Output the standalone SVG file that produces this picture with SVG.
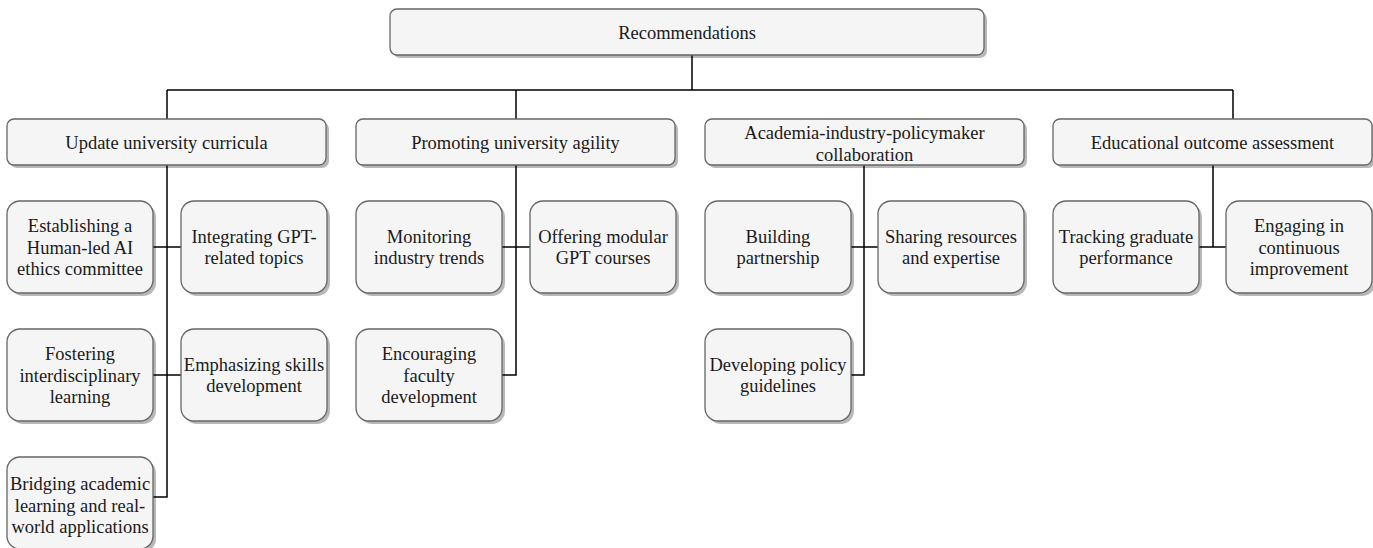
<svg xmlns="http://www.w3.org/2000/svg" width="1373" height="548" viewBox="0 0 1373 548" font-family="'Liberation Serif', Tinos, 'Times New Roman', 'DejaVu Serif', serif">
<style>
.bx{fill:#f5f5f5;stroke:#666;stroke-width:1.3}
.sh{fill:#000;opacity:0.28}
text{font-family:'Liberation Serif', Tinos, 'Times New Roman', 'DejaVu Serif', serif;font-size:18.5px;fill:#1a1a1a;text-anchor:middle}
.c{fill:none;stroke:#000;stroke-width:1.5}
</style>
<rect width="1373" height="548" fill="#fff"/>
<g id="connectors">
<path class="c" d="M692,55V90M167,90H1233M167,90V119M516,90V119M1233,90V119"/>
<path class="c" d="M167,165V497H153M153,247H181M153,375H181"/>
<path class="c" d="M516,165V375H502M502,247H530"/>
<path class="c" d="M864,165V375H851M851,247H878"/>
<path class="c" d="M1213,165V247M1199,247H1226"/>
</g>
<g id="root"><rect class="sh" x="393" y="12" width="594" height="46" rx="7"/><rect class="bx" x="390" y="9" width="594" height="46" rx="7"/><text x="687" y="38.5">Recommendations</text></g>
<g id="update"><rect class="sh" x="10" y="122" width="319" height="46" rx="7"/><rect class="bx" x="7" y="119" width="319" height="46" rx="7"/><text x="166.5" y="148.5">Update university curricula</text></g>
<g id="promoting"><rect class="sh" x="359" y="122" width="319" height="46" rx="7"/><rect class="bx" x="356" y="119" width="319" height="46" rx="7"/><text x="515.5" y="148.5">Promoting university agility</text></g>
<g id="academia"><rect class="sh" x="708" y="122" width="319" height="46" rx="7"/><rect class="bx" x="705" y="119" width="319" height="46" rx="7"/><text x="864.5" y="138.5">Academia-industry-policymaker</text><text x="864.5" y="160.5">collaboration</text></g>
<g id="educational"><rect class="sh" x="1056" y="122" width="319" height="46" rx="7"/><rect class="bx" x="1053" y="119" width="319" height="46" rx="7"/><text x="1212.5" y="148.5">Educational outcome assessment</text></g>
<g id="establishing"><rect class="sh" x="10" y="204" width="146" height="92" rx="13"/><rect class="bx" x="7" y="201" width="146" height="92" rx="13"/><text x="80" y="231.8">Establishing a</text><text x="80" y="253.5">Human-led AI</text><text x="80" y="275.2">ethics committee</text></g>
<g id="integrating"><rect class="sh" x="184" y="204" width="146" height="92" rx="13"/><rect class="bx" x="181" y="201" width="146" height="92" rx="13"/><text x="254" y="242.6">Integrating GPT-</text><text x="254" y="264.3">related topics</text></g>
<g id="fostering"><rect class="sh" x="10" y="332" width="146" height="92" rx="13"/><rect class="bx" x="7" y="329" width="146" height="92" rx="13"/><text x="80" y="359.8">Fostering</text><text x="80" y="381.5">interdisciplinary</text><text x="80" y="403.2">learning</text></g>
<g id="emphasizing"><rect class="sh" x="184" y="332" width="146" height="92" rx="13"/><rect class="bx" x="181" y="329" width="146" height="92" rx="13"/><text x="254" y="370.6">Emphasizing skills</text><text x="254" y="392.3">development</text></g>
<g id="bridging"><rect class="sh" x="10" y="460" width="146" height="92" rx="13"/><rect class="bx" x="7" y="457" width="146" height="92" rx="13"/><text x="80" y="489.8">Bridging academic</text><text x="80" y="511.5">learning and real-</text><text x="80" y="533.2">world applications</text></g>
<g id="monitoring"><rect class="sh" x="359" y="204" width="146" height="92" rx="13"/><rect class="bx" x="356" y="201" width="146" height="92" rx="13"/><text x="429" y="242.6">Monitoring</text><text x="429" y="264.3">industry trends</text></g>
<g id="offering"><rect class="sh" x="533" y="204" width="146" height="92" rx="13"/><rect class="bx" x="530" y="201" width="146" height="92" rx="13"/><text x="603" y="242.6">Offering modular</text><text x="603" y="264.3">GPT courses</text></g>
<g id="encouraging"><rect class="sh" x="359" y="332" width="146" height="92" rx="13"/><rect class="bx" x="356" y="329" width="146" height="92" rx="13"/><text x="429" y="359.8">Encouraging</text><text x="429" y="381.5">faculty</text><text x="429" y="403.2">development</text></g>
<g id="building"><rect class="sh" x="708" y="204" width="146" height="92" rx="13"/><rect class="bx" x="705" y="201" width="146" height="92" rx="13"/><text x="778" y="242.6">Building</text><text x="778" y="264.3">partnership</text></g>
<g id="sharing"><rect class="sh" x="881" y="204" width="146" height="92" rx="13"/><rect class="bx" x="878" y="201" width="146" height="92" rx="13"/><text x="951" y="242.6">Sharing resources</text><text x="951" y="264.3">and expertise</text></g>
<g id="developing"><rect class="sh" x="708" y="332" width="146" height="92" rx="13"/><rect class="bx" x="705" y="329" width="146" height="92" rx="13"/><text x="778" y="370.6">Developing policy</text><text x="778" y="392.3">guidelines</text></g>
<g id="tracking"><rect class="sh" x="1056" y="204" width="146" height="92" rx="13"/><rect class="bx" x="1053" y="201" width="146" height="92" rx="13"/><text x="1126" y="242.6">Tracking graduate</text><text x="1126" y="264.3">performance</text></g>
<g id="engaging"><rect class="sh" x="1229" y="204" width="146" height="92" rx="13"/><rect class="bx" x="1226" y="201" width="146" height="92" rx="13"/><text x="1299" y="231.8">Engaging in</text><text x="1299" y="253.5">continuous</text><text x="1299" y="275.2">improvement</text></g>
</svg>
